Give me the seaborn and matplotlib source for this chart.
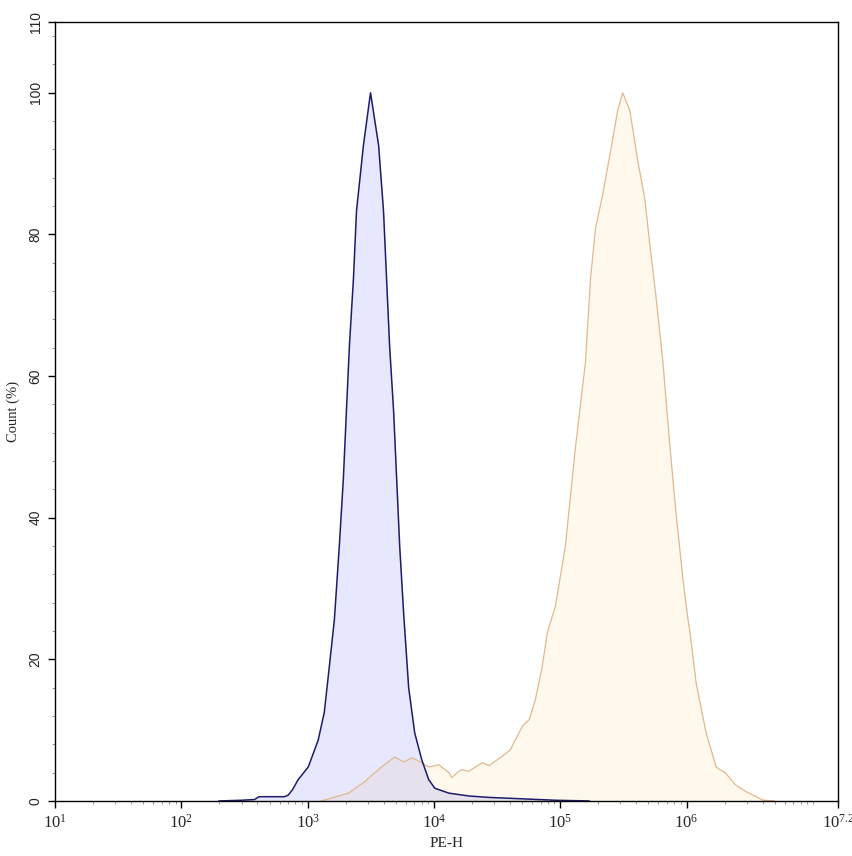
import matplotlib
matplotlib.use("Agg")
import matplotlib.pyplot as plt
import matplotlib.ticker as mticker
import numpy as np
import pandas as pd
import seaborn as sns

# control sample (blue) -- PE-H value, count %
ctrl_x = [198, 300, 380, 412, 652, 700, 760, 841, 1012, 1213, 1355, 1486, 1629,
          1782, 1919, 2028, 2143, 2307, 2438, 2767, 3148, 3648, 3990, 4217,
          4457, 4797, 5070, 5358, 5754, 6310, 7047, 8017, 9099, 10160, 13150,
          18970, 27350, 50000, 91620, 170600]
ctrl_y = [0, 0.1, 0.2, 0.6, 0.6, 0.8, 1.6, 3.0, 4.8, 8.6, 12.5, 19, 25.6,
          36, 45.5, 55, 64.3, 73.8, 83.3, 92.6, 100, 92.6, 83.3, 73.8,
          64.3, 55, 45.5, 36, 26.6, 16, 9.6, 5.8, 3.0, 1.8, 1.1,
          0.7, 0.5, 0.3, 0.1, 0]

# stained sample (orange)
stain_x = [1283, 2104, 2818, 3847, 4887, 5763, 6675, 8017, 9099, 10940, 13150,
           13870, 15780, 16670, 18970, 24050, 27350, 34670, 40180, 44060,
           50000, 56890, 63530, 72110, 79070, 91620, 109900, 132100, 158500,
           173800, 190500, 216700, 250600, 285100, 312600, 355600, 411300,
           467700, 512600, 571500, 650100, 739500, 824100, 937600, 1028000,
           1066000, 1191000, 1430000, 1718000, 1849000, 2025000, 2432000,
           2974000, 4064000, 5000000]
stain_y = [0, 1.1, 2.7, 4.8, 6.2, 5.5, 6.1, 5.4, 4.8, 5.1, 4.0,
           3.3, 4.2, 4.4, 4.2, 5.4, 5.0, 6.3, 7.2, 8.6,
           10.5, 11.5, 14.3, 19, 23.8, 27.5, 36, 50, 62,
           73.8, 80.9, 85.6, 91.8, 97.5, 100, 97.5, 90.4,
           85, 78.5, 71.4, 62, 50, 40.8, 31.3, 25.6,
           23.8, 16.7, 9.6, 4.8, 4.4, 4.0, 2.3,
           1.3, 0.1, 0]

x_exponents = ["1", "2", "3", "4", "5", "6", "7.2"]
y_ticks = [0, 20, 40, 60, 80, 100, 110]

sns.set_style("white")
serif = ["Liberation Serif", "DejaVu Serif"]
sans = ["Liberation Sans", "DejaVu Sans"]

ctrl = pd.DataFrame({"x": ctrl_x, "y": ctrl_y})
stain = pd.DataFrame({"x": stain_x, "y": stain_y})

fig = plt.figure(figsize=(8.53, 8.56), dpi=100)
ax = fig.add_axes([0.0645, 0.0643, 0.918, 0.91])
ax.set_xscale("log")

ax.fill_between(stain["x"], stain["y"], color=(1.0, 0.65, 0.0, 0.07), lw=0)
sns.lineplot(data=stain, x="x", y="y", estimator=None, sort=False,
             color="#e0b98c", lw=0.9, ax=ax)
ax.fill_between(ctrl["x"], ctrl["y"], color=(0.1, 0.1, 0.95, 0.1), lw=0)
sns.lineplot(data=ctrl, x="x", y="y", estimator=None, sort=False,
             color="#1c1c6b", lw=1.1, ax=ax)

ax.set_xlim(10, 10 ** 7.2)
ax.set_ylim(0, 110)

xt = [10 ** float(e) for e in x_exponents]
ax.set_xticks(xt)
ax.set_xticklabels([r"$\mathdefault{10^{%s}}$" % e for e in x_exponents],
                   family=serif, fontsize=12)
minor = [m * 10 ** d for d in range(1, 8) for m in range(1, 10)]
minor = [v for v in minor if 10 < v < 10 ** 7.2 and v not in xt]
ax.xaxis.set_minor_locator(mticker.FixedLocator(minor))
ax.xaxis.set_minor_formatter(mticker.NullFormatter())

ax.set_yticks(y_ticks)
ax.set_yticklabels([str(v) for v in y_ticks], family=sans, fontsize=10,
                   rotation=90, va="center")
ax.yaxis.set_minor_locator(mticker.FixedLocator(list(range(4, 110, 4))))

ax.tick_params(which="major", direction="out", length=5, width=1, color="black",
               bottom=True, left=True, pad=4)
ax.tick_params(which="minor", direction="out", length=2.5, width=0.6,
               color="#888888", bottom=True, left=True)

for s in ax.spines.values():
    s.set_color("black")
    s.set_linewidth(1.0)

ax.set_xlabel("PE-H", family=serif, fontsize=11, labelpad=4)
ax.set_ylabel("Count (%)", family=serif, fontsize=10.5, labelpad=6)

fig.savefig("out.png", dpi=100)
